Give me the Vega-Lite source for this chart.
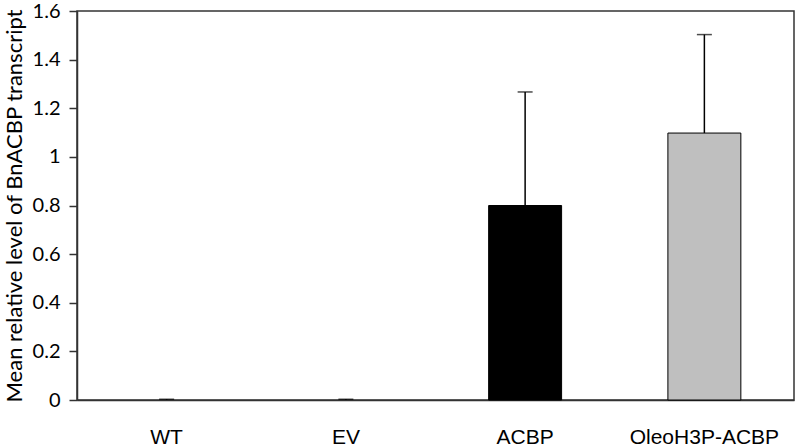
{
  "$schema": "https://vega.github.io/schema/vega-lite/v6.json",
  "width": 717,
  "height": 389,
  "autosize": {"type": "none"},
  "padding": {"left": 77, "top": 11, "right": 2, "bottom": 47},
  "background": "white",
  "config": {
    "view": {"stroke": "#333333", "strokeWidth": 1.5},
    "axis": {"grid": false}
  },
  "data": {
    "values": [
      {"group": "WT", "mean": 0, "upper": 0.003},
      {"group": "EV", "mean": 0, "upper": 0.003},
      {"group": "ACBP", "mean": 0.8, "upper": 1.267},
      {"group": "OleoH3P-ACBP", "mean": 1.098, "upper": 1.503}
    ]
  },
  "encoding": {
    "x": {
      "field": "group",
      "type": "nominal",
      "sort": ["WT", "EV", "ACBP", "OleoH3P-ACBP"],
      "scale": {"paddingInner": 0.593, "paddingOuter": 0.2965},
      "axis": {
        "title": null,
        "labelAngle": 0,
        "ticks": false,
        "domainColor": "#333333",
        "domainWidth": 1.5,
        "labelFont": "Liberation Sans",
        "labelFontSize": 21,
        "labelColor": "black",
        "labelPadding": 26
      }
    }
  },
  "layer": [
    {
      "mark": {"type": "bar", "strokeWidth": 1},
      "encoding": {
        "y": {
          "field": "mean",
          "type": "quantitative",
          "scale": {"domain": [0, 1.6], "nice": false},
          "axis": {
            "values": [0, 0.2, 0.4, 0.6, 0.8, 1, 1.2, 1.4, 1.6],
            "format": ".2~f",
            "title": "Mean relative level of BnACBP transcript",
            "titleFont": "Lato",
            "titleFontSize": 22,
            "titleFontWeight": "normal",
            "titleColor": "black",
            "titlePadding": 6,
            "labelFont": "Lato",
            "labelFontSize": 20,
            "labelColor": "black",
            "labelPadding": 9,
            "tickSize": 8,
            "tickColor": "#333333",
            "tickWidth": 1.5,
            "domainColor": "#333333",
            "domainWidth": 1.5
          }
        },
        "fill": {
          "field": "group",
          "type": "nominal",
          "scale": {"domain": ["WT", "EV", "ACBP", "OleoH3P-ACBP"], "range": ["transparent", "transparent", "black", "#bfbfbf"]},
          "legend": null
        },
        "stroke": {
          "field": "group",
          "type": "nominal",
          "scale": {"domain": ["WT", "EV", "ACBP", "OleoH3P-ACBP"], "range": ["transparent", "transparent", "black", "black"]},
          "legend": null
        }
      }
    },
    {
      "mark": {"type": "rule", "color": "black", "strokeWidth": 1.5},
      "encoding": {
        "y": {"field": "mean", "type": "quantitative"},
        "y2": {"field": "upper"}
      }
    },
    {
      "mark": {"type": "tick", "color": "black", "thickness": 1.5, "size": 15},
      "encoding": {
        "y": {"field": "upper", "type": "quantitative"}
      }
    }
  ]
}
